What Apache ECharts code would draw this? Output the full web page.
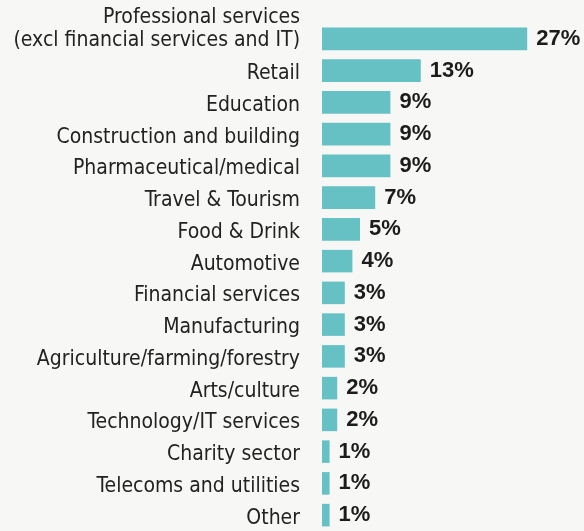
<!DOCTYPE html>
<html>
<head>
<meta charset="utf-8">
<script src="https://cdn.jsdelivr.net/npm/echarts@6/dist/echarts.min.js"></script>
<style>
  html, body { margin: 0; padding: 0; background: #f7f7f5; }
  #chart { width: 584px; height: 531px; }
</style>
</head>
<body>
<div id="chart"></div>
<script>
// sectors, top to bottom
var sectors = [
  'Professional services\n(excl financial services and IT)',
  'Retail',
  'Education',
  'Construction and building',
  'Pharmaceutical/medical',
  'Travel & Tourism',
  'Food & Drink',
  'Automotive',
  'Financial services',
  'Manufacturing',
  'Agriculture/farming/forestry',
  'Arts/culture',
  'Technology/IT services',
  'Charity sector',
  'Telecoms and utilities',
  'Other'
]
var shares = [27, 13, 9, 9, 9, 7, 5, 4, 3, 3, 3, 2, 2, 1, 1, 1]

var labelFont = {
  color: '#222222',
  fontSize: 21,
  lineHeight: 23,
  fontFamily: 'DejaVu Sans Condensed'
}

var chart = echarts.init(document.getElementById('chart'))
var option = {
  backgroundColor: '#f7f7f5',
  animation: false,
  grid: {
    left: 322,
    top: 23,
    width: 228,
    height: 512
  },
  xAxis: {
    type: 'value',
    min: 0,
    max: 30,
    show: false
  },
  yAxis: {
    type: 'category',
    inverse: true,
    data: sectors,
    axisLine: { show: false },
    axisTick: { show: false },
    axisLabel: {
      interval: 0,
      hideOverlap: false,
      margin: 22,
      color: '#222222',
      fontSize: 21,
      fontFamily: 'DejaVu Sans Condensed',
      // small spacer lines nudge the text a little below the bar centre,
      // and keep the second line of the long label level with its bar
      formatter: function (value) {
        var lines = value.split('\n').map(function (l) {
          return '{s|' + l + '}'
        })
        if (lines.length > 1) {
          return lines.join('\n') + '\n{bottom| }'
        }
        return '{top| }\n' + lines[0]
      },
      rich: {
        s: labelFont,
        top: { fontSize: 4, lineHeight: 6 },
        bottom: { fontSize: 4, lineHeight: 19 }
      }
    }
  },
  series: [{
    type: 'bar',
    data: shares,
    barCategoryGap: '29%',
    itemStyle: { color: '#66c1c4' },
    label: {
      show: true,
      position: 'right',
      distance: 9,
      formatter: '{c}%',
      color: '#1c1c1c',
      fontWeight: 'bold',
      fontSize: 22,
      fontFamily: 'Liberation Sans'
    }
  }]
}
chart.setOption(option)
window.addEventListener('resize', function () {
  chart.resize()
})
</script>
</body>
</html>
